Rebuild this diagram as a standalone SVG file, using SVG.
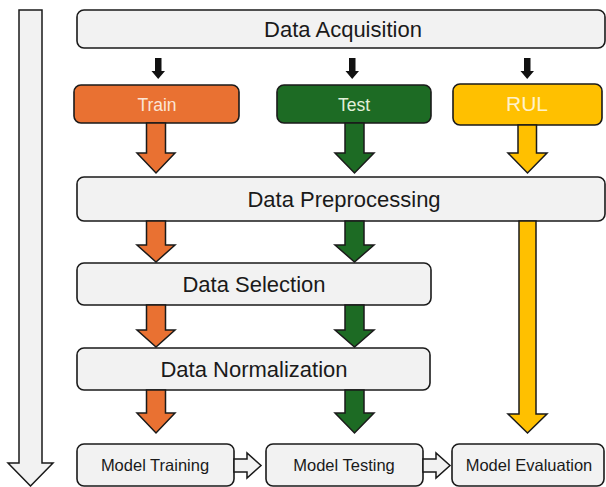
<svg xmlns="http://www.w3.org/2000/svg" width="606" height="487" viewBox="0 0 606 487">
<style>
.box{fill:#F2F2F2;stroke:#1a1a1a;stroke-width:1.6}
.lbl{font-family:"Liberation Sans",Arial,sans-serif;fill:#1a1a1a;text-anchor:middle}
.big{font-size:22px}
.small{font-size:16.5px}
.orange{fill:#E97132;stroke:#1a1a1a;stroke-width:1.5}
.green{fill:#1D6B24;stroke:#1a1a1a;stroke-width:1.5}
.yellow{fill:#FFC000;stroke:#1a1a1a;stroke-width:1.5}
.blk{fill:#111;stroke:none}
.hollow{fill:#F2F2F2;stroke:#1a1a1a;stroke-width:1.5;stroke-linejoin:miter}
</style>
<g id="flow-arrow">
<path class="hollow" d="M19,10 H42 V463 H53 L30.5,486 L8,463 H19 Z"/>
</g>
<g id="data-acquisition">
<rect class="box" x="77" y="10" width="528" height="38" rx="7"/>
<text class="lbl big" x="343" y="37">Data Acquisition</text>
</g>
<g id="train">
<rect x="74" y="85" width="165" height="38" rx="7" fill="#E97132" stroke="#1a1a1a" stroke-width="1.6"/>
<text class="lbl" x="157" y="111" font-size="17.5" style="fill:#FBE5D6">Train</text>
</g>
<g id="test">
<rect x="277" y="85" width="154" height="38" rx="7" fill="#1D6B24" stroke="#1a1a1a" stroke-width="1.6"/>
<text class="lbl" x="354" y="111" font-size="17.5" style="fill:#E2F0D9">Test</text>
</g>
<g id="rul">
<rect x="453" y="84" width="149" height="41" rx="7" fill="#FFC000" stroke="#1a1a1a" stroke-width="1.6"/>
<text class="lbl" x="527" y="111" font-size="21" style="fill:#FFF2CC">RUL</text>
</g>
<g id="data-preprocessing">
<rect class="box" x="77" y="177" width="528" height="44" rx="7"/>
<text class="lbl big" x="344" y="207">Data Preprocessing</text>
</g>
<g id="data-selection">
<rect class="box" x="77" y="263" width="354" height="42" rx="7"/>
<text class="lbl big" x="254" y="292">Data Selection</text>
</g>
<g id="data-normalization">
<rect class="box" x="77" y="348" width="353" height="42" rx="7"/>
<text class="lbl big" x="254" y="377">Data Normalization</text>
</g>
<g id="model-training">
<rect class="box" x="77" y="444" width="157" height="42" rx="7"/>
<text class="lbl small" x="155" y="471">Model Training</text>
</g>
<g id="model-testing">
<rect class="box" x="266" y="444" width="157" height="42" rx="7"/>
<text class="lbl small" x="344" y="471">Model Testing</text>
</g>
<g id="model-evaluation">
<rect class="box" x="452" y="444" width="152" height="42" rx="7"/>
<text class="lbl small" x="529" y="471">Model Evaluation</text>
</g>
<g id="connectors">
<path class="blk" d="M155,58 H161.5 V71 H165 L158.2,79 L151.5,71 H155 Z"/>
<path class="blk" d="M349,58 H355.5 V71 H359 L352.2,79 L345.5,71 H349 Z"/>
<path class="blk" d="M524,58 H530.5 V71 H534 L527.2,79 L520.5,71 H524 Z"/>
<path class="orange" d="M146.5,123 H165.5 V153 H175 L156,173 L137,153 H146.5 Z"/>
<path class="orange" d="M146.5,221 H165.5 V245 H175 L156,262 L137,245 H146.5 Z"/>
<path class="orange" d="M146.5,305 H165.5 V330 H175 L156,347 L137,330 H146.5 Z"/>
<path class="orange" d="M146.5,390 H165.5 V413 H175 L156,433 L137,413 H146.5 Z"/>
<path class="green" d="M345,123 H364 V153 H374 L354.5,173 L335,153 H345 Z"/>
<path class="green" d="M345,221 H364 V245 H374 L354.5,262 L335,245 H345 Z"/>
<path class="green" d="M345,305 H364 V330 H374 L354.5,347 L335,330 H345 Z"/>
<path class="green" d="M345,390 H364 V413 H374 L354.5,433 L335,413 H345 Z"/>
<path class="yellow" d="M518,125 H536.5 V153 H547 L527.5,173 L508,153 H518 Z"/>
<path class="yellow" d="M519,221 H536 V414 H547 L527.5,433 L508,414 H519 Z"/>
<path class="hollow" d="M234,459 H247 V453 L261,465.5 L247,478 V472 H234 Z"/>
<path class="hollow" d="M423,459 H436 V453 L450,465.5 L436,478 V472 H423 Z"/>
</g>
</svg>
